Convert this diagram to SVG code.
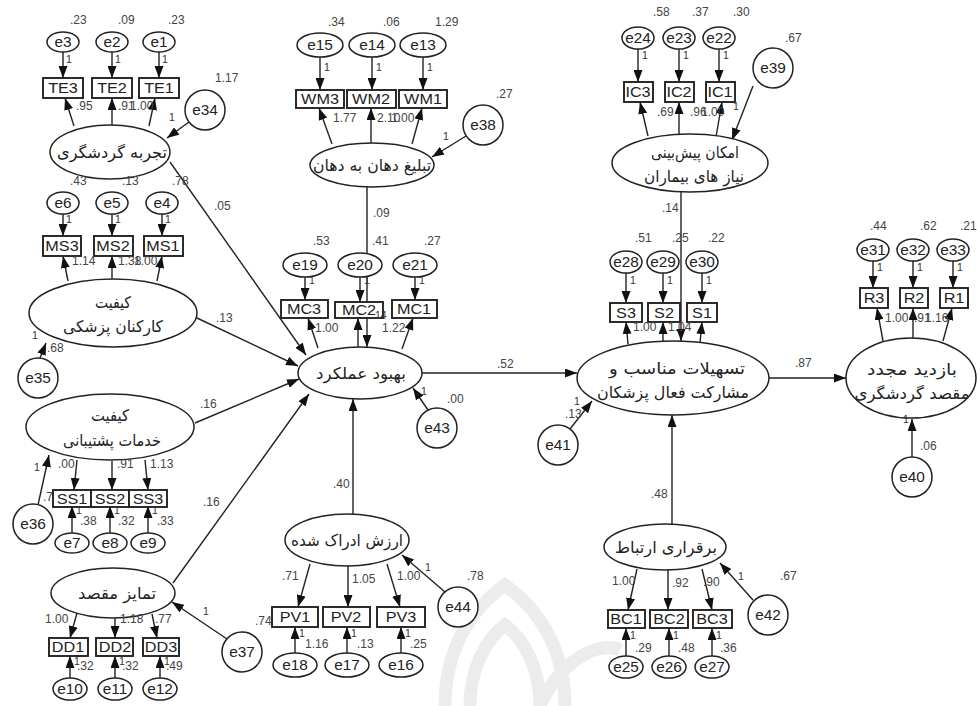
<svg xmlns="http://www.w3.org/2000/svg" width="977" height="706" viewBox="0 0 977 706">
<defs>
<marker id="a" viewBox="0 0 12 9" refX="12" refY="4.5" markerWidth="12" markerHeight="9" orient="auto" markerUnits="userSpaceOnUse"><path d="M0,0 L12,4.5 L0,9 z" fill="#111"/></marker>
<style>
.o{fill:#fff;stroke:#222;stroke-width:1.9}
.e{fill:#fff;stroke:#222;stroke-width:1.5}
.c{stroke:#222;stroke-width:1.4;fill:none;marker-end:url(#a)}
.t{font-family:"Liberation Sans",Arial,sans-serif;font-size:15px;fill:#222;text-anchor:middle;transform-box:fill-box;transform-origin:center;transform:scaleX(1.08)}
.s{font-family:"Liberation Sans",Arial,sans-serif;font-size:14px;fill:#222;text-anchor:middle;transform-box:fill-box;transform-origin:center;transform:scaleX(1.1)}
.v{font-family:"Liberation Sans",Arial,sans-serif;font-size:12px;fill:#444}
.w{font-family:"Liberation Sans",Arial,sans-serif;font-size:10.5px;fill:#333}
.f{font-family:"DejaVu Sans","Noto Sans",sans-serif;font-size:16px;fill:#222;text-anchor:middle}
.wm{fill:none;stroke:#ececec;stroke-width:13}
</style>
</defs>
<rect width="977" height="706" fill="#fff"/>
<g id="watermark">
<path class="wm" d="M445 706 C445 650 470 610 505 585 C540 610 565 650 565 706"/>
<path class="wm" d="M470 706 C470 670 485 640 505 625 C525 640 540 670 540 706"/>
<path class="wm" d="M540 706 C560 660 600 640 620 650"/>
</g>
<g id="connectors">
<path class="c" d="M63 52 L63 78"/><path class="c" d="M112 52 L112 78"/><path class="c" d="M159 52 L159 78"/>
<path class="c" d="M74 126 L65 98"/><path class="c" d="M112 125 L112 98"/><path class="c" d="M149 126 L155 98"/>
<path class="c" d="M189 122 L167 138"/>
<path class="c" d="M63 214 L63 236"/><path class="c" d="M112 214 L112 236"/><path class="c" d="M162 214 L162 236"/>
<path class="c" d="M68 281 L63 256"/><path class="c" d="M112 280 L112 256"/><path class="c" d="M157 281 L162 256"/>
<path class="c" d="M40 358 L46 343"/>
<path class="c" d="M77 460 L74 490"/><path class="c" d="M112 461 L112 490"/><path class="c" d="M145 460 L148 490"/>
<path class="c" d="M38 505 L49 455"/>
<path class="c" d="M72 533 L72 506"/><path class="c" d="M110 533 L110 506"/><path class="c" d="M148 533 L148 506"/>
<path class="c" d="M77 613 L70 638"/><path class="c" d="M115 618 L115 638"/><path class="c" d="M152 614 L157 638"/>
<path class="c" d="M70 678 L70 656"/><path class="c" d="M115 678 L115 656"/><path class="c" d="M160 678 L160 656"/>
<path class="c" d="M227 639 L172 602"/>
<path class="c" d="M320 57 L320 90"/><path class="c" d="M372 57 L372 90"/><path class="c" d="M423 57 L423 90"/>
<path class="c" d="M332 144 L319 108"/><path class="c" d="M371 143 L371 108"/><path class="c" d="M412 144 L422 108"/>
<path class="c" d="M466 136 L432 157"/>
<path class="c" d="M367 187 L367 347"/>
<path class="c" d="M305 277 L305 300"/><path class="c" d="M360 277 L360 302"/><path class="c" d="M415 277 L415 300"/>
<path class="c" d="M318 348 L308 318"/><path class="c" d="M358 347 L358 318"/><path class="c" d="M402 349 L413 318"/>
<path class="c" d="M428 410 L413 388"/>
<path class="c" d="M170 162 L306 355"/>
<path class="c" d="M197 318 L298 366"/>
<path class="c" d="M195 423 L299 379"/>
<path class="c" d="M173 583 L309 394"/>
<path class="c" d="M353 514 L353 399"/>
<path class="c" d="M422 373 L577 373"/>
<path class="c" d="M310 564 L298 607"/><path class="c" d="M348 566 L348 607"/><path class="c" d="M387 564 L400 607"/>
<path class="c" d="M295 653 L295 627"/><path class="c" d="M347 653 L347 627"/><path class="c" d="M401 653 L401 627"/>
<path class="c" d="M445 592 L402 555"/>
<path class="c" d="M638 49 L638 82"/><path class="c" d="M679 49 L679 82"/><path class="c" d="M719 49 L719 82"/>
<path class="c" d="M648 136 L640 102"/><path class="c" d="M679 134 L679 102"/><path class="c" d="M716 137 L722 102"/>
<path class="c" d="M753 86 L732 140"/>
<path class="c" d="M681 192 L681 341"/>
<path class="c" d="M626 273 L626 303"/><path class="c" d="M663 273 L663 303"/><path class="c" d="M702 273 L702 303"/>
<path class="c" d="M628 344 L626 322"/><path class="c" d="M663 341 L663 322"/><path class="c" d="M700 343 L702 322"/>
<path class="c" d="M570 429 L592 401"/>
<path class="c" d="M672 524 L672 415"/>
<path class="c" d="M769 378 L846 378"/>
<path class="c" d="M637 569 L628 610"/><path class="c" d="M668 570 L668 610"/><path class="c" d="M702 569 L712 610"/>
<path class="c" d="M626 656 L626 628"/><path class="c" d="M669 656 L669 628"/><path class="c" d="M712 656 L712 628"/>
<path class="c" d="M753 600 L720 563"/>
<path class="c" d="M873 261 L873 288"/><path class="c" d="M913 261 L913 288"/><path class="c" d="M953 261 L953 288"/>
<path class="c" d="M883 341 L877 308"/><path class="c" d="M913 338 L913 308"/><path class="c" d="M943 341 L952 308"/>
<path class="c" d="M912 457 L912 419"/>
</g>
<g id="TE">
<ellipse class="e" cx="63" cy="42" rx="16" ry="10"/><text class="s" x="63" y="47">e3</text>
<ellipse class="e" cx="112" cy="42" rx="16" ry="10"/><text class="s" x="112" y="47">e2</text>
<ellipse class="e" cx="159" cy="42" rx="16" ry="10"/><text class="s" x="159" y="47">e1</text>
<rect class="o" x="43" y="78" width="40" height="20"/><text class="t" x="63" y="93">TE3</text>
<rect class="o" x="92" y="78" width="40" height="20"/><text class="t" x="112" y="93">TE2</text>
<rect class="o" x="139" y="78" width="40" height="20"/><text class="t" x="159" y="93">TE1</text>
<ellipse class="e" cx="110" cy="152" rx="60" ry="27"/><text class="f" x="112" y="158" textLength="110" lengthAdjust="spacingAndGlyphs">تجربه گردشگری</text>
<circle class="e" cx="205" cy="110" r="20"/><text class="s" x="205" y="115">e34</text>
</g>
<g id="MS">
<ellipse class="e" cx="63" cy="203" rx="16" ry="11"/><text class="s" x="63" y="208">e6</text>
<ellipse class="e" cx="112" cy="203" rx="16" ry="11"/><text class="s" x="112" y="208">e5</text>
<ellipse class="e" cx="162" cy="203" rx="16" ry="11"/><text class="s" x="162" y="208">e4</text>
<rect class="o" x="43" y="236" width="38" height="20"/><text class="t" x="62" y="251">MS3</text>
<rect class="o" x="94" y="236" width="39" height="20"/><text class="t" x="113" y="251">MS2</text>
<rect class="o" x="144" y="236" width="39" height="20"/><text class="t" x="163" y="251">MS1</text>
<ellipse class="e" cx="113" cy="313" rx="84" ry="34"/><text class="f" x="113" y="308" textLength="36" lengthAdjust="spacingAndGlyphs">کیفیت</text><text class="f" x="113" y="332" textLength="100" lengthAdjust="spacingAndGlyphs">کارکنان پزشکی</text>
<circle class="e" cx="38" cy="378" r="20"/><text class="s" x="38" y="383">e35</text>
</g>
<g id="SS">
<ellipse class="e" cx="110" cy="427" rx="84" ry="33"/><text class="f" x="110" y="421" textLength="38" lengthAdjust="spacingAndGlyphs">کیفیت</text><text class="f" x="112" y="446" textLength="98" lengthAdjust="spacingAndGlyphs">خدمات پشتیبانی</text>
<text class="v" x="43" y="501">.74</text>
<rect class="o" x="53" y="490" width="38" height="17"/><text class="t" x="72" y="504">SS1</text>
<rect class="o" x="91" y="490" width="38" height="17"/><text class="t" x="110" y="504">SS2</text>
<rect class="o" x="129" y="490" width="38" height="17"/><text class="t" x="148" y="504">SS3</text>
<ellipse class="e" cx="72" cy="543" rx="17" ry="10"/><text class="s" x="72" y="548">e7</text>
<ellipse class="e" cx="110" cy="543" rx="17" ry="10"/><text class="s" x="110" y="548">e8</text>
<ellipse class="e" cx="148" cy="543" rx="17" ry="10"/><text class="s" x="148" y="548">e9</text>
<circle class="e" cx="33" cy="524" r="20"/><text class="s" x="33" y="529">e36</text>
</g>
<g id="DD">
<ellipse class="e" cx="113" cy="593" rx="62" ry="25"/><text class="f" x="117" y="599" textLength="78" lengthAdjust="spacingAndGlyphs">تمایز مقصد</text>
<rect class="o" x="49" y="638" width="39" height="18"/><text class="t" x="68" y="652">DD1</text>
<rect class="o" x="96" y="638" width="37" height="18"/><text class="t" x="115" y="652">DD2</text>
<rect class="o" x="143" y="638" width="36" height="18"/><text class="t" x="161" y="652">DD3</text>
<ellipse class="e" cx="70" cy="689" rx="17" ry="11"/><text class="s" x="70" y="694">e10</text>
<ellipse class="e" cx="115" cy="689" rx="17" ry="11"/><text class="s" x="115" y="694">e11</text>
<ellipse class="e" cx="160" cy="689" rx="17" ry="11"/><text class="s" x="160" y="694">e12</text>
<circle class="e" cx="242" cy="652" r="20"/><text class="s" x="242" y="657">e37</text>
</g>
<g id="WM">
<ellipse class="e" cx="320" cy="45" rx="23" ry="12"/><text class="s" x="320" y="50">e15</text>
<ellipse class="e" cx="372" cy="45" rx="23" ry="12"/><text class="s" x="372" y="50">e14</text>
<ellipse class="e" cx="423" cy="45" rx="23" ry="12"/><text class="s" x="423" y="50">e13</text>
<rect class="o" x="296" y="90" width="48" height="18"/><text class="t" x="320" y="104">WM3</text>
<rect class="o" x="347" y="90" width="49" height="18"/><text class="t" x="371" y="104">WM2</text>
<rect class="o" x="399" y="90" width="48" height="18"/><text class="t" x="423" y="104">WM1</text>
<ellipse class="e" cx="372" cy="165" rx="62" ry="22"/><text class="f" x="372" y="171" textLength="118" lengthAdjust="spacingAndGlyphs">تبلیغ دهان به دهان</text>
<circle class="e" cx="483" cy="125" r="20"/><text class="s" x="483" y="130">e38</text>
</g>
<g id="MC">
<ellipse class="e" cx="305" cy="265" rx="22" ry="12"/><text class="s" x="305" y="270">e19</text>
<ellipse class="e" cx="360" cy="265" rx="22" ry="12"/><text class="s" x="360" y="270">e20</text>
<ellipse class="e" cx="415" cy="265" rx="22" ry="12"/><text class="s" x="415" y="270">e21</text>
<rect class="o" x="281" y="300" width="47" height="18"/><text class="t" x="304" y="314">MC3</text>
<rect class="o" x="335" y="302" width="48" height="16"/><text class="t" x="359" y="315">MC2</text>
<rect class="o" x="392" y="300" width="45" height="18"/><text class="t" x="414" y="314">MC1</text>
</g>
<g id="performance">
<ellipse class="e" cx="360" cy="373" rx="62" ry="26"/><text class="f" x="361" y="379" textLength="90" lengthAdjust="spacingAndGlyphs">بهبود عملکرد</text>
<circle class="e" cx="437" cy="428" r="20"/><text class="s" x="437" y="433">e43</text>
</g>
<g id="PV">
<ellipse class="e" cx="347" cy="540" rx="62" ry="26"/><text class="f" x="347" y="546" textLength="112" lengthAdjust="spacingAndGlyphs">ارزش ادراک شده</text>
<rect class="o" x="272" y="607" width="46" height="20"/><text class="t" x="295" y="622">PV1</text>
<rect class="o" x="323" y="607" width="47" height="20"/><text class="t" x="346" y="622">PV2</text>
<rect class="o" x="377" y="607" width="48" height="20"/><text class="t" x="401" y="622">PV3</text>
<ellipse class="e" cx="295" cy="665" rx="22" ry="12"/><text class="s" x="295" y="670">e18</text>
<ellipse class="e" cx="347" cy="665" rx="22" ry="12"/><text class="s" x="347" y="670">e17</text>
<ellipse class="e" cx="401" cy="665" rx="22" ry="12"/><text class="s" x="401" y="670">e16</text>
<circle class="e" cx="458" cy="607" r="20"/><text class="s" x="458" y="612">e44</text>
</g>
<g id="IC">
<ellipse class="e" cx="638" cy="38" rx="16" ry="11"/><text class="s" x="638" y="43">e24</text>
<ellipse class="e" cx="679" cy="38" rx="16" ry="11"/><text class="s" x="679" y="43">e23</text>
<ellipse class="e" cx="719" cy="38" rx="16" ry="11"/><text class="s" x="719" y="43">e22</text>
<rect class="o" x="624" y="82" width="29" height="20"/><text class="t" x="638" y="97">IC3</text>
<rect class="o" x="665" y="82" width="29" height="20"/><text class="t" x="679" y="97">IC2</text>
<rect class="o" x="706" y="82" width="29" height="20"/><text class="t" x="720" y="97">IC1</text>
<ellipse class="e" cx="690" cy="163" rx="78" ry="29"/><text class="f" x="695" y="158" textLength="88" lengthAdjust="spacingAndGlyphs">امکان پیش‌بینی</text><text class="f" x="694" y="182" textLength="100" lengthAdjust="spacingAndGlyphs">نیاز های بیماران</text>
<circle class="e" cx="773" cy="68" r="20"/><text class="s" x="773" y="73">e39</text>
</g>
<g id="S">
<ellipse class="e" cx="626" cy="262" rx="16" ry="11"/><text class="s" x="626" y="267">e28</text>
<ellipse class="e" cx="663" cy="262" rx="16" ry="11"/><text class="s" x="663" y="267">e29</text>
<ellipse class="e" cx="702" cy="262" rx="16" ry="11"/><text class="s" x="702" y="267">e30</text>
<rect class="o" x="610" y="303" width="32" height="19"/><text class="t" x="626" y="318">S3</text>
<rect class="o" x="648" y="303" width="32" height="19"/><text class="t" x="664" y="318">S2</text>
<rect class="o" x="687" y="303" width="30" height="19"/><text class="t" x="702" y="318">S1</text>
</g>
<g id="facility">
<ellipse class="e" cx="673" cy="378" rx="96" ry="37"/><text class="f" x="677" y="374" textLength="136" lengthAdjust="spacingAndGlyphs">تسهیلات مناسب و</text><text class="f" x="673" y="398" textLength="152" lengthAdjust="spacingAndGlyphs">مشارکت فعال پزشکان</text>
<circle class="e" cx="558" cy="445" r="20"/><text class="s" x="558" y="450">e41</text>
</g>
<g id="BC">
<ellipse class="e" cx="665" cy="547" rx="61" ry="23"/><text class="f" x="666" y="553" textLength="102" lengthAdjust="spacingAndGlyphs">برقراری ارتباط</text>
<rect class="o" x="608" y="610" width="37" height="18"/><text class="t" x="626" y="624">BC1</text>
<rect class="o" x="650" y="610" width="38" height="18"/><text class="t" x="669" y="624">BC2</text>
<rect class="o" x="693" y="610" width="39" height="18"/><text class="t" x="712" y="624">BC3</text>
<ellipse class="e" cx="626" cy="667" rx="17" ry="11"/><text class="s" x="626" y="672">e25</text>
<ellipse class="e" cx="669" cy="667" rx="17" ry="11"/><text class="s" x="669" y="672">e26</text>
<ellipse class="e" cx="712" cy="667" rx="17" ry="11"/><text class="s" x="712" y="672">e27</text>
<circle class="e" cx="768" cy="615" r="20"/><text class="s" x="768" y="620">e42</text>
</g>
<g id="R">
<ellipse class="e" cx="873" cy="250" rx="16" ry="11"/><text class="s" x="873" y="255">e31</text>
<ellipse class="e" cx="913" cy="250" rx="16" ry="11"/><text class="s" x="913" y="255">e32</text>
<ellipse class="e" cx="953" cy="250" rx="16" ry="11"/><text class="s" x="953" y="255">e33</text>
<rect class="o" x="860" y="288" width="28" height="20"/><text class="t" x="874" y="303">R3</text>
<rect class="o" x="900" y="288" width="28" height="20"/><text class="t" x="914" y="303">R2</text>
<rect class="o" x="940" y="288" width="28" height="20"/><text class="t" x="954" y="303">R1</text>
<ellipse class="e" cx="911" cy="378" rx="65" ry="40"/><text class="f" x="912" y="375" textLength="90" lengthAdjust="spacingAndGlyphs">بازدید مجدد</text><text class="f" x="912" y="399" textLength="115" lengthAdjust="spacingAndGlyphs">مقصد گردشگری</text>
<circle class="e" cx="912" cy="477" r="20"/><text class="s" x="912" y="482">e40</text>
</g>
<g id="labels">
<text class="v" x="70" y="24">.23</text><text class="v" x="118" y="24">.09</text><text class="v" x="168" y="24">.23</text>
<text class="w" x="66" y="63">1</text><text class="w" x="115" y="63">1</text><text class="w" x="162" y="63">1</text>
<text class="v" x="76" y="110">.95</text><text class="v" x="118" y="110">.91</text><text class="v" x="130" y="110">1.00</text>
<text class="v" x="215" y="82">1.17</text><text class="w" x="169" y="121">1</text>
<text class="v" x="70" y="185">.43</text><text class="v" x="122" y="185">.13</text><text class="v" x="172" y="185">.78</text>
<text class="w" x="66" y="223">1</text><text class="w" x="115" y="223">1</text><text class="w" x="165" y="223">1</text>
<text class="v" x="72" y="265">1.14</text><text class="v" x="118" y="265">1.38</text><text class="v" x="134" y="265">1.00</text>
<text class="v" x="214" y="210">.05</text><text class="v" x="216" y="322">.13</text>
<text class="w" x="32" y="339">1</text><text class="v" x="47" y="352">.68</text>
<text class="v" x="58" y="468">.00</text><text class="v" x="117" y="468">.91</text><text class="v" x="150" y="468">1.13</text>
<text class="w" x="34" y="471">1</text>
<text class="v" x="200" y="408">.16</text><text class="v" x="203" y="506">.16</text>
<text class="w" x="76" y="514">1</text><text class="v" x="80" y="525">.38</text>
<text class="w" x="114" y="514">1</text><text class="v" x="118" y="525">.32</text>
<text class="w" x="152" y="514">1</text><text class="v" x="157" y="525">.33</text>
<text class="v" x="45" y="623">1.00</text><text class="v" x="120" y="623">1.18</text><text class="v" x="155" y="623">.77</text>
<text class="w" x="74" y="665">1</text><text class="v" x="77" y="670">.32</text>
<text class="w" x="119" y="665">1</text><text class="v" x="122" y="670">.32</text>
<text class="w" x="164" y="665">1</text><text class="v" x="166" y="670">.49</text>
<text class="w" x="203" y="615">1</text><text class="v" x="255" y="625">.74</text>
<text class="v" x="328" y="26">.34</text><text class="v" x="383" y="26">.06</text><text class="v" x="435" y="26">1.29</text>
<text class="w" x="324" y="71">1</text><text class="w" x="376" y="71">1</text><text class="w" x="427" y="71">1</text>
<text class="v" x="333" y="122">1.77</text><text class="v" x="377" y="122">2.10</text><text class="v" x="391" y="122">1.00</text>
<text class="v" x="496" y="98">.27</text><text class="w" x="443" y="140">1</text>
<text class="v" x="373" y="217">.09</text>
<text class="v" x="313" y="245">.53</text><text class="v" x="372" y="245">.41</text><text class="v" x="424" y="245">.27</text>
<text class="w" x="309" y="284">1</text><text class="w" x="364" y="284">1</text><text class="w" x="419" y="284">1</text>
<text class="v" x="315" y="332">1.00</text><text class="v" x="382" y="332">1.22</text><text class="w" x="372" y="319">.14</text>
<text class="w" x="421" y="395">1</text><text class="v" x="447" y="403">.00</text>
<text class="v" x="497" y="368">.52</text>
<text class="v" x="333" y="488">.40</text>
<text class="v" x="282" y="580">.71</text><text class="v" x="352" y="583">1.05</text><text class="v" x="397" y="580">1.00</text>
<text class="w" x="425" y="571">1</text><text class="v" x="467" y="580">.78</text>
<text class="w" x="299" y="637">1</text><text class="v" x="305" y="648">1.16</text>
<text class="w" x="351" y="637">1</text><text class="v" x="357" y="648">.13</text>
<text class="w" x="405" y="637">1</text><text class="v" x="410" y="648">.25</text>
<text class="v" x="653" y="16">.58</text><text class="v" x="692" y="16">.37</text><text class="v" x="733" y="16">.30</text>
<text class="v" x="785" y="42">.67</text>
<text class="w" x="642" y="59">1</text><text class="w" x="683" y="59">1</text><text class="w" x="723" y="59">1</text>
<text class="v" x="657" y="116">.69</text><text class="v" x="690" y="116">.96</text><text class="v" x="701" y="116">1.00</text>
<text class="w" x="733" y="110">1</text>
<text class="v" x="662" y="212">.14</text>
<text class="v" x="635" y="242">.51</text><text class="v" x="672" y="242">.25</text><text class="v" x="708" y="242">.22</text>
<text class="w" x="630" y="284">1</text><text class="w" x="667" y="284">1</text><text class="w" x="706" y="284">1</text>
<text class="v" x="633" y="331">1.00</text><text class="v" x="668" y="331">1.04</text>
<text class="w" x="574" y="405">1</text><text class="v" x="565" y="418">.13</text>
<text class="v" x="651" y="498">.48</text>
<text class="v" x="795" y="367">.87</text>
<text class="v" x="612" y="585">1.00</text><text class="v" x="672" y="587">.92</text><text class="v" x="703" y="586">.90</text>
<text class="w" x="738" y="580">1</text><text class="v" x="780" y="580">.67</text>
<text class="w" x="630" y="639">1</text><text class="v" x="635" y="652">.29</text>
<text class="w" x="673" y="639">1</text><text class="v" x="678" y="652">.48</text>
<text class="w" x="716" y="639">1</text><text class="v" x="720" y="652">.36</text>
<text class="v" x="870" y="230">.44</text><text class="v" x="920" y="230">.62</text><text class="v" x="960" y="230">.21</text>
<text class="w" x="877" y="271">1</text><text class="w" x="917" y="271">1</text><text class="w" x="957" y="271">1</text>
<text class="v" x="885" y="322">1.00</text><text class="v" x="914" y="322">.91</text><text class="v" x="925" y="322">1.16</text>
<text class="w" x="903" y="423">1</text><text class="v" x="920" y="450">.06</text>
</g>
</svg>
